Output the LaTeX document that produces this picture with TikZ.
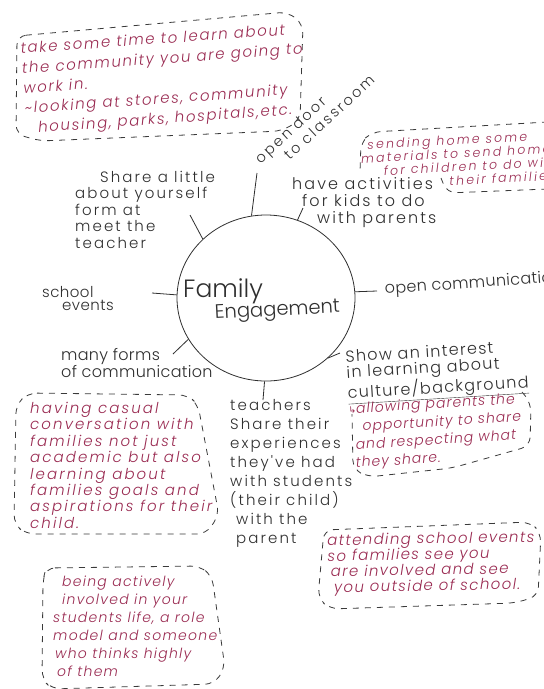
\documentclass[tikz,border=0pt]{standalone}
\usepackage{fontspec}
\usetikzlibrary{shapes.geometric}
\newfontfamily\hand{Poppins}[UprightFont=* Light, ItalicFont=* Light Italic]
\newfontfamily\symb{DejaVu Sans}
% handwriting: size, leading, letter spacing
\newcommand\hw[3]{\hand\addfontfeatures{LetterSpace=#3}\fontsize{#1}{#2}\selectfont}
\newcommand\hwi[3]{\hand\itshape\addfontfeatures{LetterSpace=#3}\fontsize{#1}{#2}\selectfont}
\definecolor{ink}{HTML}{2F2F2F}
\definecolor{pen}{HTML}{9A2B52}
\definecolor{dash}{HTML}{3A3A3A}

\begin{document}
\begin{tikzpicture}[x=1pt, y=-1pt,
  idea/.style={inner sep=0pt, anchor=north west, align=left, text=ink},
  note/.style={inner sep=0pt, anchor=north west, align=left, text=pen},
  single/.style={inner sep=0pt, anchor=base west, text=ink},
  hubshape/.style={ellipse, draw=ink, line width=0.8pt, inner sep=0pt,
                   minimum width=178pt, minimum height=166pt},
  spoke/.style={draw=ink, line width=0.8pt},
  frame/.style={draw=dash, line width=0.8pt, dash pattern=on 6pt off 6pt,
                rounded corners=9pt}]

\useasboundingbox (0,0) rectangle (544,689);
\clip (0,0) rectangle (544,689);
\fill[white] (0,0) rectangle (544,689);

% central topic
\node[hubshape] (hub) at (266,298) {};
\node[single, font={\hw{25}{28}{0}}] (fam) at (183,297) {Family};
\node[single, font={\hw{19.5}{22}{0}}, rotate=3] (eng) at (215,319) {Engagement};

% black ideas around the hub
\node[idea, font={\hw{14.5}{17}{16}}, rotate=43] (door) at (253,157)
  {open door\\ \hspace*{24pt}to classroom};

\node[idea, font={\hw{15}{16.5}{14}}] (share) at (75,171)
  {\hspace*{25pt}Share a little\\ about yourself\\ form at\\ meet the\\ teacher};

\node[idea, font={\hw{16}{17}{13}}] (act) at (292,177)
  {have activities\\ \hspace*{10pt}for kids to do\\ \hspace*{25pt}with parents};

\node[idea, font={\hw{15}{13}{3}}] (events) at (42,286)
  {school\\ \hspace*{20pt}events};

\node[idea, font={\hw{16}{17}{2}}] (forms) at (61,348)
  {many forms\\ of communication};

\node[single, font={\hw{16}{18}{2}}, rotate=4] (comm) at (385,294) {open communication};

\node[idea, font={\hw{16}{16}{8}}, rotate=3.5] (interest) at (345,350)
  {Show an interest\\ in learning about\\ \underline{culture/background}};

\node[idea, font={\hw{15}{19}{14}}] (teach) at (230,399)
  {teachers\\ Share their\\ experiences\\ they've had\\ with students\\ (their child)\\ \hspace*{6pt}with the\\ \hspace*{6pt}parent};

% spokes
\coordinate (eDoor) at (257,173);
\coordinate (eShare) at (190,215);
\coordinate (eAct) at (303,208);
\coordinate (eEvents) at (152,293);
\coordinate (eForms) at (173,354);
\coordinate (eComm) at (377,291);
\coordinate (eInterest) at (340,353);
\coordinate (eTeach) at (263,400);
\draw[spoke] (hub.100) -- (eDoor);
\draw[spoke] (hub.137) -- (eShare);
\draw[spoke] (hub.68) -- (eAct);
\draw[spoke] (hub.178) -- (eEvents);
\draw[spoke] (hub.208) -- (eForms);
\draw[spoke] (hub.4) -- (eComm);
\draw[spoke] (hub.316) -- (eInterest);
\draw[spoke] (hub.269) -- (eTeach);

% red notes in dashed frames
\node[note, font={\hwi{15}{20}{11}}, rotate=4] (learn) at (20,42)
  {take some time to learn about\\ the community you are going to\\ work in.\\ \textasciitilde looking at stores, community\\ \hspace*{12pt}housing, parks, hospitals,etc.};
\draw[frame] (17,36) -- (288,12) -- (303,24) -- (300,120) -- (282,131) -- (40,141) -- (16,134) -- cycle;

\node[note, font={\hwi{12.5}{13.5}{18}}, rotate=3] (send) at (360,140)
  {\hspace*{7pt}sending home some\\ materials to send home\\ \hspace*{22pt}for children to do with\\ \hspace*{87pt}their families};
\draw[frame] (548,122) -- (372,132) -- (361,142) -- (360,172);
\draw[frame] (441,178) -- (447,193) -- (548,189);

\node[note, font={\hwi{14}{18}{7}}, rotate=3.5] (allow) at (348,403)
  {{\symb\small ↳}allowing parents the\\ \hspace*{13pt}opportunity to share\\ \hspace*{5pt}and respecting what\\ \hspace*{4pt}they share.};
\draw[frame] (522,392) -- (531,403) -- (530,446) -- (452,468) -- (368,477) -- (353,469) -- (352,414);

\node[note, font={\hwi{15}{16.4}{14}}] (casual) at (30,402)
  {having casual\\ conversation with\\ families not just\\ academic but also\\ learning about\\ families goals and\\ aspirations for their\\ child.};
\draw[frame] (28,393) -- (188,395) -- (198,405) -- (219,515) -- (206,534) -- (26,534) -- (14,524) -- (16,405) -- cycle;

\node[note, font={\hwi{15}{15.7}{9}}, rotate=1] (attend) at (327,534)
  {attending school events\\ so families see you\\ \hspace*{3pt}are involved and see\\ \hspace*{6pt}you outside of school.};
\draw[frame] (324,530) -- (530,522) -- (541,533) -- (538,596) -- (515,603) -- (330,609) -- (318,598) -- cycle;

\node[note, font={\hwi{14}{18}{9}}] (role) at (53,576)
  {\hspace*{9pt}being actively\\ \hspace*{9pt}involved in your\\ students life, a role\\ model and someone\\ \hspace*{2pt}who thinks highly\\ \hspace*{4pt}of them};
\draw[frame] (46,568) -- (200,566) -- (212,576) -- (225,668) -- (214,684) -- (52,689) -- (42,679) -- (43,580) -- cycle;

\end{tikzpicture}
\end{document}
